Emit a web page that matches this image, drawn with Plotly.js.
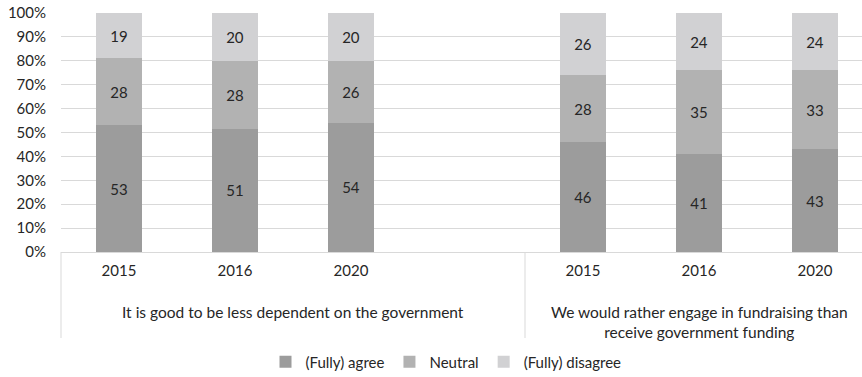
<!DOCTYPE html>
<html>
<head>
<meta charset="utf-8">
<script src="https://cdn.plot.ly/plotly-3.0.1.min.js"></script>
<style>html,body{margin:0;padding:0;background:#fff}#chart{width:862px;height:377px}</style>
</head>
<body>
<div id="chart"></div>
<script>
const years = ["2015", "2016", "2020", "2015", "2016", "2020"];
const groupOf = [0, 0, 0, 1, 1, 1];
const groupLabels = [
  "It is good to be less dependent on the government",
  "We would rather engage in fundraising than<br>receive government funding"
];
const seriesNames = ["(Fully) agree", "Neutral", "(Fully) disagree"];
const agree = [53, 51, 54, 46, 41, 43];
const neutral = [28, 28, 26, 28, 35, 33];
const disagree = [19, 20, 20, 26, 24, 24];
const colors = ["#9c9c9c", "#b2b2b2", "#d1d1d3"];

// slot positions: group 0 has an empty 4th slot before group 1
const slots = years.map((y, i) => i + groupOf[i]);
const xRange = [-0.5, 6.405];
const FONT = "Lato, 'Open Sans', sans-serif";
const FS = 15;
const txt = "#262626";

const mk = (vals, k) => ({
  type: "bar", name: seriesNames[k], x: slots, y: vals,
  marker: {color: colors[k]}, width: 0.4,
  text: vals.map(String), textposition: "inside", insidetextanchor: "middle",
  textangle: 0, constraintext: "none",
  textfont: {family: FONT, size: FS, color: txt}, hoverinfo: "skip"
});
const data = [mk(agree, 0), mk(neutral, 1), mk(disagree, 2)];

const span = xRange[1] - xRange[0];
const toPaper = v => (v - xRange[0]) / span;
const divY = -(338 - 252) / 239;

// group boundaries (in slot units): group 0 = slots 0..3, group 1 = slots 4..6
const groupBounds = [[-0.5, 3.5], [3.5, 6.5]];

const shapes = groupBounds.map(b => ({
  type: "line", xref: "paper", yref: "paper",
  x0: toPaper(b[0]), x1: toPaper(b[0]), y0: 0, y1: divY,
  line: {color: "#d9d9d9", width: 1}
}));

const annotations = groupBounds.map((b, g) => ({
  xref: "x", yref: "paper", x: (b[0] + b[1]) / 2, y: -(301 - 252) / 239,
  xanchor: "center", yanchor: "top", showarrow: false,
  text: groupLabels[g], align: "center",
  font: {family: FONT, size: 15.5, color: txt}
}));

const layout = {
  width: 862, height: 377,
  margin: {l: 61, r: 0, t: 13, b: 125, pad: 0},
  paper_bgcolor: "#fff", plot_bgcolor: "#fff",
  barmode: "stack", barnorm: "percent", bargap: 0,
  font: {family: FONT, size: FS, color: txt},
  xaxis: {
    range: xRange, tickvals: slots, ticktext: years,
    showgrid: false, zeroline: false, showline: true, linecolor: "#d9d9d9", linewidth: 1,
    ticks: "", ticklabelstandoff: 5, tickfont: {family: FONT, size: FS, color: txt}
  },
  yaxis: {
    range: [0, 100], dtick: 10, ticksuffix: "%",
    showgrid: true, gridcolor: "#d9d9d9", gridwidth: 1, zeroline: false, showline: false,
    ticks: "", ticklabelstandoff: 14, tickfont: {family: FONT, size: FS, color: txt}
  },
  showlegend: true,
  legend: {
    orientation: "h", x: (446 - 61) / 801, xanchor: "center",
    yref: "container", y: 1 - 362 / 377, yanchor: "middle", traceorder: "normal",
    font: {family: FONT, size: FS, color: txt}, itemwidth: 30
  },
  shapes: shapes, annotations: annotations
};

Plotly.newPlot("chart", data, layout, {displayModeBar: false, staticPlot: true});
</script>
</body>
</html>
